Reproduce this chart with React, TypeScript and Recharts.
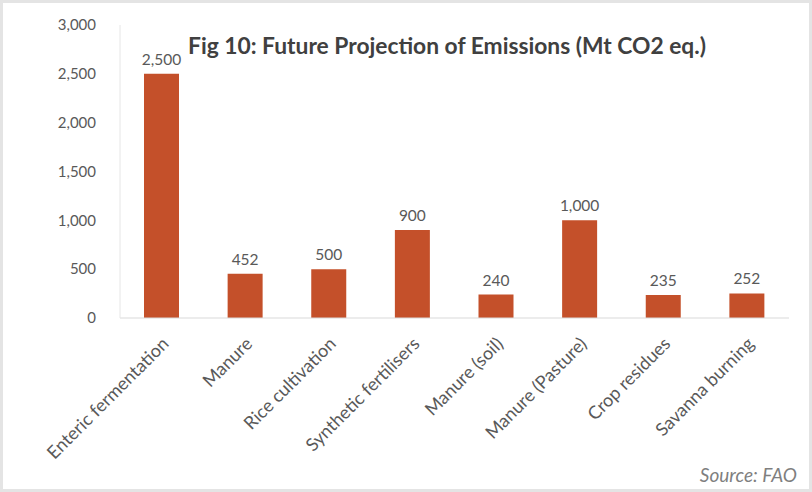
import { Bar, BarChart, LabelList, XAxis, YAxis } from "recharts";

const categories = [
  "Enteric fermentation",
  "Manure",
  "Rice cultivation",
  "Synthetic fertilisers",
  "Manure (soil)",
  "Manure (Pasture)",
  "Crop residues",
  "Savanna burning",
];
const emissions = [2500, 452, 500, 900, 240, 1000, 235, 252];
const yTicks = [0, 500, 1000, 1500, 2000, 2500, 3000];

const data = categories.map((name, i) => ({ name, value: emissions[i] }));

const font = "Lato, 'Open Sans', sans-serif";
const fmt = (v: number) => Number(v).toLocaleString("en-US");

function CategoryTick({ x, y, payload }: any) {
  const ax = x + 8;
  const ay = y + 19;
  return (
    <text
      x={ax}
      y={ay}
      transform={`rotate(-45, ${ax}, ${ay})`}
      textAnchor="end"
      fontSize={18}
      fontFamily={font}
      fill="#595959"
    >
      {payload.value}
    </text>
  );
}

export default function App() {
  return (
    <div
      style={{
        position: "absolute",
        left: 0,
        top: 0,
        width: 812,
        height: 492,
        background: "#fff",
        boxSizing: "border-box",
        border: "3px solid #e4e4e4",
        fontFamily: font,
      }}
    >
      <div
        style={{
          position: "absolute",
          left: 0,
          width: 812,
          top: 28,
          textAlign: "center",
          paddingLeft: 76,
          boxSizing: "border-box",
          fontSize: 22.8,
          fontWeight: 700,
          color: "#404040",
        }}
      >
        Fig 10: Future Projection of Emissions (Mt CO2 eq.)
      </div>
      <div style={{ position: "absolute", left: -3, top: -3 }}>
        <BarChart width={812} height={492} data={data} margin={{ top: 25, right: 23, bottom: 0, left: 10 }}>
          <XAxis
            dataKey="name"
            interval={0}
            height={174}
            tickLine={false}
            axisLine={{ stroke: "#d9d9d9" }}
            tick={<CategoryTick />}
          />
          <YAxis
            width={110}
            domain={[0, 3000]}
            ticks={yTicks}
            tickFormatter={fmt}
            tickLine={false}
            tickMargin={18}
            axisLine={{ stroke: "#e6e6e6" }}
            tick={{ fontSize: 15, fill: "#595959", fontFamily: font }}
          />
          <Bar dataKey="value" fill="#C4502A" barSize={35} isAnimationActive={false}>
            <LabelList
              dataKey="value"
              position="top"
              offset={9}
              formatter={(v: any) => fmt(v)}
              style={{ fontSize: 15.5, fill: "#595959", fontFamily: font }}
            />
          </Bar>
        </BarChart>
      </div>
      <div
        style={{
          position: "absolute",
          right: 12,
          top: 460,
          fontSize: 19,
          fontStyle: "italic",
          color: "#7f7f7f",
        }}
      >
        Source: FAO
      </div>
    </div>
  );
}
